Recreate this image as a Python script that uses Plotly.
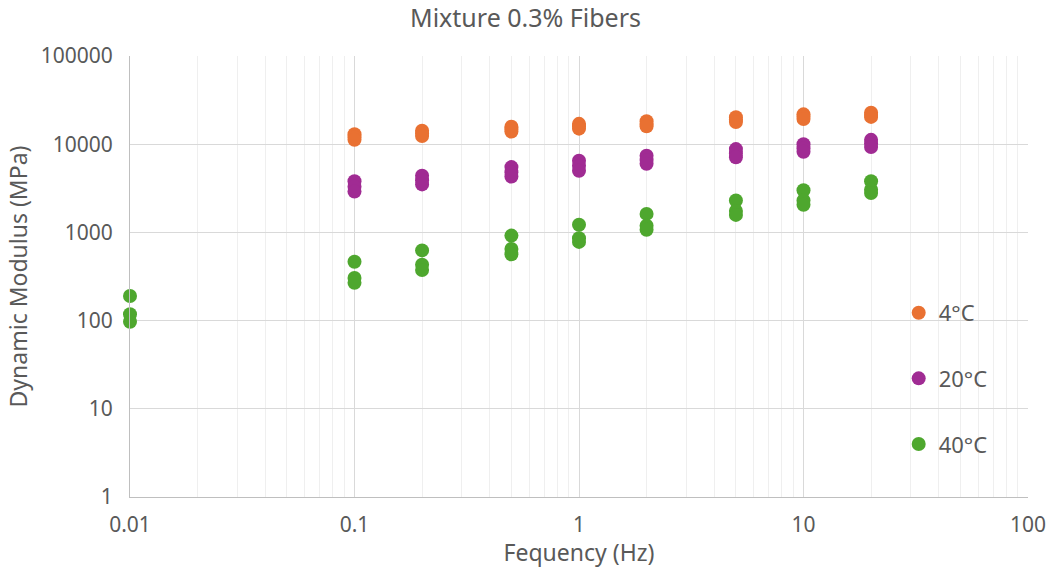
import plotly.graph_objects as go

# Test frequencies (Hz), three replicate readings per frequency
freq_4c = [0.1]*3 + [0.2]*3 + [0.5]*3 + [1]*3 + [2]*3 + [5]*3 + [10]*3 + [20]*3
mod_4c = [13000, 12000, 11200,
          14200, 13200, 12400,
          15800, 14800, 13900,
          17000, 16000, 15000,
          18200, 17000, 16000,
          20200, 19000, 17800,
          21800, 20500, 19300,
          22800, 21500, 20400]

freq_20c = [0.1]*3 + [0.2]*3 + [0.5]*3 + [1]*3 + [2]*3 + [5]*3 + [10]*3 + [20]*3
mod_20c = [3800, 3300, 2900,
           4400, 3900, 3500,
           5500, 4800, 4300,
           6500, 5700, 5000,
           7400, 6600, 6000,
           8800, 7900, 7100,
           10000, 9000, 8200,
           11200, 10200, 9300]

freq_40c = [0.01]*3 + [0.1]*3 + [0.2]*3 + [0.5]*3 + [1]*3 + [2]*3 + [5]*3 + [10]*3 + [20]*3
mod_40c = [190, 118, 97,
           465, 305, 268,
           625, 430, 375,
           920, 650, 565,
           1220, 860, 780,
           1620, 1190, 1070,
           2300, 1750, 1580,
           3000, 2300, 2060,
           3800, 3050, 2800]

x_ticks = [0.01, 0.1, 1, 10, 100]
x_tick_text = ["0.01", "0.1", "1", "10", "100"]
y_ticks = [1, 10, 100, 1000, 10000, 100000]
y_tick_text = ["1", "10", "100", "1000", "10000", "100000"]

series = [
    ("4°C", freq_4c, mod_4c, "#E97132"),
    ("20°C", freq_20c, mod_20c, "#A02B93"),
    ("40°C", freq_40c, mod_40c, "#4EA72E"),
]

fig = go.Figure()
for name, xs, ys, color in series:
    fig.add_trace(go.Scatter(
        x=xs, y=ys, mode="markers", name=name, legendgroup=name,
        marker=dict(size=14, color=color, line=dict(width=0)),
        cliponaxis=False,
    ))

text_color = "#595959"
font_family = "Noto Sans, Open Sans, sans-serif"

fig.update_layout(
    width=1051, height=568,
    margin=dict(l=130, r=23, t=56, b=71),
    paper_bgcolor="white", plot_bgcolor="white",
    font=dict(family=font_family, color=text_color, size=21),
    title=dict(text="Mixture 0.3% Fibers", x=0.5, xanchor="center",
               y=0.968, yanchor="middle", font=dict(size=25, color=text_color)),
    showlegend=True,
    legend=dict(x=0.856, y=0.465, xanchor="left", yanchor="top",
                bgcolor="rgba(0,0,0,0)", font=dict(size=22, color=text_color),
                tracegroupgap=34, itemwidth=30),
)

fig.update_xaxes(
    type="log", range=[-2, 2], automargin=False,
    tickvals=x_ticks, ticktext=x_tick_text,
    showgrid=True, gridcolor="#d9d9d9", gridwidth=1,
    minor=dict(showgrid=True, gridcolor="#efefef", gridwidth=1,
               tickvals=[m * 10**e for e in range(-2, 2) for m in range(2, 10)]),
    showline=True, linecolor="#bfbfbf", linewidth=1,
    ticks="", ticklabelstandoff=9,
    zeroline=False,
    title=dict(text="Fequency (Hz)", font=dict(size=23, color=text_color), standoff=0),
    tickfont=dict(size=21, color=text_color),
)

fig.update_yaxes(
    type="log", range=[0, 5], automargin=False,
    tickvals=y_ticks, ticktext=y_tick_text,
    showgrid=True, gridcolor="#d9d9d9", gridwidth=1,
    showline=True, linecolor="#bfbfbf", linewidth=1,
    ticks="", ticklabelstandoff=12,
    zeroline=False,
    title=dict(text="Dynamic Modulus (MPa)", font=dict(size=23, color=text_color), standoff=6),
    tickfont=dict(size=21, color=text_color),
)

fig.write_html("out.html")
